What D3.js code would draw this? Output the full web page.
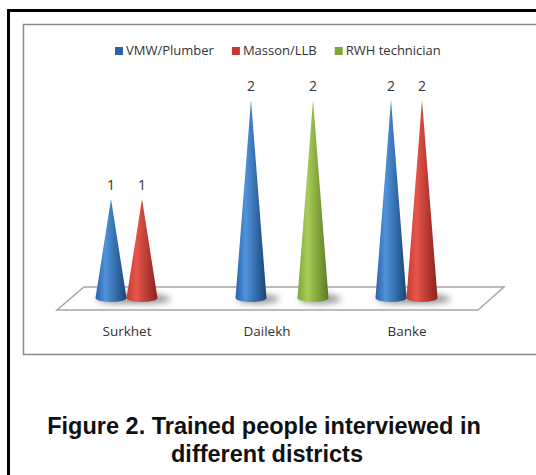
<!DOCTYPE html>
<html>
<head>
<meta charset="utf-8">
<script src="https://cdn.jsdelivr.net/npm/d3@7"></script>
<style>
  body { margin: 0; background: #fff; }
  text { font-family: "Open Sans", sans-serif; }
</style>
</head>
<body>
<svg width="536" height="475"></svg>
<script>
const districts = ["Surkhet", "Dailekh", "Banke"];
const series = ["VMW/Plumber", "Masson/LLB", "RWH technician"];
const vmw = [1, 2, 2];
const masson = [1, 0, 2];
const rwh = [0, 2, 0];
const colors = {
  "VMW/Plumber": ["#2a63ab", "#4f93db", "#1b4478"],
  "Masson/LLB": ["#c23a30", "#e8554b", "#8a221d"],
  "RWH technician": ["#7ea53a", "#a9cd58", "#5b7b22"]
};

const svg = d3.select("svg");
const defs = svg.append("defs");

// gradients for the cones
series.forEach((s, i) => {
  const g = defs.append("linearGradient").attr("id", "grad" + i)
    .attr("x1", 0).attr("x2", 1).attr("y1", 0).attr("y2", 0);
  g.append("stop").attr("offset", "0%").attr("stop-color", colors[s][0]);
  g.append("stop").attr("offset", "32%").attr("stop-color", colors[s][1]);
  g.append("stop").attr("offset", "100%").attr("stop-color", colors[s][2]);
});
defs.append("filter").attr("id", "blur").attr("x", "-50%").attr("y", "-100%")
  .attr("width", "200%").attr("height", "300%")
  .append("feGaussianBlur").attr("stdDeviation", 3);

// frames
svg.append("rect").attr("x", 8.5).attr("y", 10.5).attr("width", 560).attr("height", 500)
  .attr("fill", "none").attr("stroke", "#000").attr("stroke-width", 3);
svg.append("rect").attr("x", 23.5).attr("y", 24.5).attr("width", 540).attr("height", 330)
  .attr("fill", "none").attr("stroke", "#8c8c8c").attr("stroke-width", 1.5);

// scales
const x = d3.scaleBand().domain(districts).range([57, 477]);
const xs = d3.scaleBand().domain(series).range([-31.5, 61.5]);
const y = d3.scaleLinear().domain([0, 2]).range([298, 100]);

// floor
const floorFront = 310, floorBack = 287;
svg.append("path")
  .attr("d", `M57,${floorFront} L478,${floorFront} L504,${floorBack} L84,${floorBack} Z`)
  .attr("fill", "#fff").attr("stroke", "#a6a6a6").attr("stroke-width", 1.5);

const rows = [];
districts.forEach((d, i) => {
  [vmw, masson, rwh].forEach((arr, j) => {
    if (arr[i] > 0) rows.push({ d, s: series[j], j, v: arr[i] });
  });
});

const r = 15.5, ry = 4;
const cx = p => x(p.d) + x.bandwidth() / 2 + xs(p.s) + xs.bandwidth() / 2;

// shadows
svg.append("g").selectAll("ellipse").data(rows).join("ellipse")
  .attr("cx", p => cx(p) + 7).attr("cy", y(0) + 1)
  .attr("rx", 21).attr("ry", 5)
  .attr("fill", "#7a7a7a").attr("opacity", 0.75)
  .attr("filter", "url(#blur)");

// cones
svg.append("g").selectAll("path").data(rows).join("path")
  .attr("d", p => {
    const c = cx(p), b = y(0), t = y(p.v);
    return `M${c - r},${b} L${c},${t} L${c + r},${b} A${r},${ry} 0 0 1 ${c - r},${b} Z`;
  })
  .attr("fill", p => `url(#grad${p.j})`);

// value labels
svg.append("g").selectAll("text").data(rows).join("text")
  .attr("x", cx).attr("y", p => y(p.v) - 9)
  .attr("text-anchor", "middle").attr("font-size", 14).attr("fill", "#333")
  .text(p => p.v);

// category labels
svg.append("g").selectAll("text").data(districts).join("text")
  .attr("x", d => x(d) + x.bandwidth() / 2).attr("y", 336)
  .attr("text-anchor", "middle").attr("font-size", 13.5).attr("fill", "#333")
  .text(d => d);

// legend
const legend = svg.append("g");
let lx = 115;
series.forEach((s, i) => {
  legend.append("rect").attr("x", lx).attr("y", 47).attr("width", 8).attr("height", 8)
    .attr("fill", colors[s][0]);
  const t = legend.append("text").attr("x", lx + 11).attr("y", 55)
    .attr("font-size", 13).attr("fill", "#333").text(s);
  lx += 11 + t.node().getComputedTextLength() + 18;
});

// caption
const cap = svg.append("text").attr("text-anchor", "middle")
  .style("font-family", "'Liberation Sans', Arial, sans-serif")
  .attr("font-weight", "bold").attr("font-size", 23.5).attr("fill", "#111");
cap.append("tspan").attr("x", 264).attr("y", 434).text("Figure 2. Trained people interviewed in");
cap.append("tspan").attr("x", 267).attr("y", 462).text("different districts");
</script>
</body>
</html>
